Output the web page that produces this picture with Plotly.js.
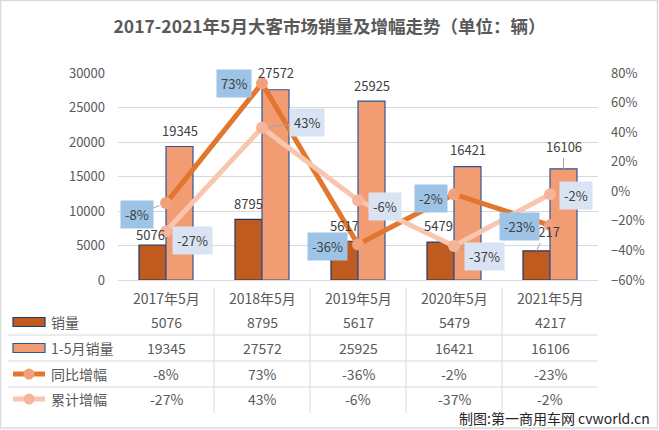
<!DOCTYPE html>
<html><head><meta charset="utf-8">
<script src="https://cdn.plot.ly/plotly-3.0.1.min.js"></script>
<style>html,body{margin:0;padding:0;background:#fff}</style>
</head><body><div id="chart" style="width:659px;height:430px"></div>
<script>
const categories = ['2017年5月','2018年5月','2019年5月','2020年5月','2021年5月'];
const monthlySales = [5076, 8795, 5617, 5479, 4217];
const cumulativeSales = [19345, 27572, 25925, 16421, 16106];
const monthlyGrowth = [-0.08, 0.73, -0.36, -0.02, -0.23];
const cumulativeGrowth = [-0.27, 0.43, -0.06, -0.37, -0.02];
const seriesNames = ['销量', '1-5月销量', '同比增幅', '累计增幅'];
const chartTitle = '2017-2021年5月大客市场销量及增幅走势（单位：辆）';
const creditText = '制图:第一商用车网 cvworld.cn';

const FONT = '"Noto Sans CJK SC", "Microsoft YaHei", sans-serif';
const W = 659, H = 430, L = 118, R = 61, T = 73, B = 150;
const plotW = W - L - R, plotH = H - T - B;
const px2x = p => (p - L) / plotW;
const px2y = p => (H - B - p) / plotH;
const pct = v => Math.round(v * 100) + '%';

const C = {
  bar1: '#BF5B1F', bar1Line: '#203864',
  bar2: '#F29C74', bar2Line: '#2F5597',
  line1: '#E2762D', mk1: '#F2A07C',
  line2: '#F8C6AF', mk2: '#F5B59A',
  box1: '#9DC3E6', box2: '#DAE3F3',
  text: '#404040', axis: '#595959', grid: '#D9D9D9'
};

const traces = [
  {type: 'bar', x: categories, y: monthlySales, name: seriesNames[0],
   marker: {color: C.bar1, line: {color: C.bar1Line, width: 1.2}}, hoverinfo: 'none'},
  {type: 'bar', x: categories, y: cumulativeSales, name: seriesNames[1],
   marker: {color: C.bar2, line: {color: C.bar2Line, width: 1.2}}, hoverinfo: 'none'},
  {type: 'scatter', mode: 'lines+markers', x: categories, y: monthlyGrowth, yaxis: 'y2', name: seriesNames[2],
   line: {color: C.line1, width: 5}, marker: {size: 12, color: C.mk1}, hoverinfo: 'none'},
  {type: 'scatter', mode: 'lines+markers', x: categories, y: cumulativeGrowth, yaxis: 'y2', name: seriesNames[3],
   line: {color: C.line2, width: 5}, marker: {size: 12, color: C.mk2}, hoverinfo: 'none'}
];

const annotations = [];
function label(opts) {
  const a = Object.assign({xref: 'x', font: {family: FONT, size: 13, color: C.text}}, opts.base);
  if (opts.arrow) {
    Object.assign(a, {showarrow: true, arrowhead: 0, arrowwidth: 1, arrowcolor: '#A6A6A6',
      axref: 'pixel', ayref: 'pixel', ax: opts.dx, ay: opts.dy, standoff: opts.standoff || 0});
  } else {
    Object.assign(a, {showarrow: false, xanchor: 'center', yanchor: 'middle',
      xshift: (a.xshift || 0) + opts.dx, yshift: (a.yshift || 0) - opts.dy});
  }
  annotations.push(a);
}

// bar value labels (pixel offsets from bar top to label centre)
const bar1Place = [[-2, -10, false], [0, -16, false], [0, -16, false], [-2, -17, false], [9, -19, true]];
const bar2Place = [[0, -16, false], [0, -17, false], [0, -16, false], [0, -17, false], [0, -22, true]];
categories.forEach((c, i) => {
  label({base: {x: c, y: monthlySales[i], yref: 'y', text: String(monthlySales[i]), xshift: -13.5},
         dx: bar1Place[i][0], dy: bar1Place[i][1], arrow: bar1Place[i][2]});
  label({base: {x: c, y: cumulativeSales[i], yref: 'y', text: String(cumulativeSales[i]), xshift: 13.5},
         dx: bar2Place[i][0], dy: bar2Place[i][1], arrow: bar2Place[i][2]});
});

// growth labels (pixel offsets from point to box centre)
const g1Place = [[-29, 11, true], [-28, 0, false], [-31, 2, false], [-23, 4, false], [-31, 1, false]];
const g2Place = [[26, 9, false], [45, -5, true], [27, 6, false], [30, 11, true], [26, 1, false]];
categories.forEach((c, i) => {
  label({base: {x: c, y: monthlyGrowth[i], yref: 'y2', text: pct(monthlyGrowth[i]), bgcolor: C.box1, borderpad: 4},
         dx: g1Place[i][0], dy: g1Place[i][1], arrow: g1Place[i][2], standoff: 7});
});
categories.forEach((c, i) => {
  label({base: {x: c, y: cumulativeGrowth[i], yref: 'y2', text: pct(cumulativeGrowth[i]), bgcolor: C.box2, borderpad: 4},
         dx: g2Place[i][0], dy: g2Place[i][1], arrow: g2Place[i][2], standoff: 7});
});

// data table
const tableFont = {family: FONT, size: 14, color: C.axis};
const rowY = [322, 348, 374, 399];
const rows = [monthlySales.map(String), cumulativeSales.map(String), monthlyGrowth.map(pct), cumulativeGrowth.map(pct)];
categories.forEach((c, i) => {
  annotations.push({x: c, xref: 'x', y: px2y(298), yref: 'paper', text: c, showarrow: false,
    xanchor: 'center', yanchor: 'middle', font: tableFont});
  rows.forEach((r, k) => annotations.push({x: c, xref: 'x', y: px2y(rowY[k]), yref: 'paper', text: r[i],
    showarrow: false, xanchor: 'center', yanchor: 'middle', font: tableFont}));
});
seriesNames.forEach((n, k) => annotations.push({x: px2x(49), xref: 'paper', y: px2y(rowY[k]), yref: 'paper',
  text: n, showarrow: false, xanchor: 'left', yanchor: 'middle', font: tableFont}));
annotations.push({x: px2x(652), xref: 'paper', y: px2y(418), yref: 'paper', text: creditText, showarrow: false,
  xanchor: 'right', yanchor: 'middle', font: {family: FONT, size: 14, color: '#262626'}});

const shapes = [];
const line = (x0, y0, x1, y1, xref, color, width) => shapes.push({type: 'line', xref: xref, yref: 'paper',
  x0: x0, x1: x1, y0: y0, y1: y1, line: {color: color, width: width || 1}, layer: 'below'});
[335, 361, 387].forEach(p => line(px2x(8), px2y(p), px2x(597), px2y(p), 'paper', C.grid));
for (let i = 0; i < categories.length - 1; i++) line(i + 0.5, px2y(288), i + 0.5, px2y(413), 'x', C.grid);
// outer border
shapes.push({type: 'rect', xref: 'paper', yref: 'paper', x0: px2x(0.5), x1: px2x(657.5), y0: px2y(0.5), y1: px2y(428),
  line: {color: '#D9D9D9', width: 1.5}, fillcolor: 'rgba(0,0,0,0)'});
// legend keys
const sx0 = px2x(13), sx1 = px2x(45);
shapes.push({type: 'rect', xref: 'paper', yref: 'paper', x0: sx0, x1: sx1, y0: px2y(rowY[0] - 4.5), y1: px2y(rowY[0] + 4.5),
  fillcolor: C.bar1, line: {color: C.bar1Line, width: 1.2}});
shapes.push({type: 'rect', xref: 'paper', yref: 'paper', x0: sx0, x1: sx1, y0: px2y(rowY[1] - 4.5), y1: px2y(rowY[1] + 4.5),
  fillcolor: C.bar2, line: {color: C.bar2Line, width: 1.2}});
[[rowY[2], C.line1, C.mk1], [rowY[3], C.line2, C.mk2]].forEach(([py, lc, mc]) => {
  shapes.push({type: 'line', xref: 'paper', yref: 'paper', x0: sx0, x1: sx1, y0: px2y(py), y1: px2y(py),
    line: {color: lc, width: 5}});
  shapes.push({type: 'circle', xref: 'paper', yref: 'paper', x0: px2x(23.5), x1: px2x(34.5),
    y0: px2y(py - 5.5), y1: px2y(py + 5.5), fillcolor: mc, line: {width: 0}});
});

const layout = {
  width: W, height: H, margin: {l: L, r: R, t: T, b: B, pad: 0},
  paper_bgcolor: '#fff', plot_bgcolor: '#fff', showlegend: false,
  title: {text: '<b>' + chartTitle + '</b>', xref: 'container', x: 0.5, xanchor: 'center',
    yref: 'container', y: 1 - 27 / H, yanchor: 'middle', font: {family: FONT, size: 17.5, color: C.axis}},
  barmode: 'group', bargap: 0.4375, bargroupgap: 0,
  xaxis: {type: 'category', showticklabels: false, ticks: '', showgrid: false, showline: true,
    linecolor: C.grid, linewidth: 1, zeroline: false, range: [-0.5, categories.length - 0.5], fixedrange: true},
  yaxis: {range: [0, 30000], dtick: 5000, tickformat: 'd', showgrid: true, gridcolor: C.grid, zeroline: false, showline: false,
    ticks: '', ticklabelstandoff: 12, tickfont: {family: FONT, size: 13, color: C.axis}, fixedrange: true},
  yaxis2: {overlaying: 'y', side: 'right', range: [-0.6, 0.8], dtick: 0.2, tickformat: '.0%', showgrid: false,
    zeroline: false, showline: false, ticks: '', ticklabelstandoff: 12,
    tickfont: {family: FONT, size: 13, color: C.axis}, fixedrange: true},
  annotations: annotations, shapes: shapes
};
Plotly.newPlot('chart', traces, layout, {displayModeBar: false, staticPlot: true});
</script></body></html>
